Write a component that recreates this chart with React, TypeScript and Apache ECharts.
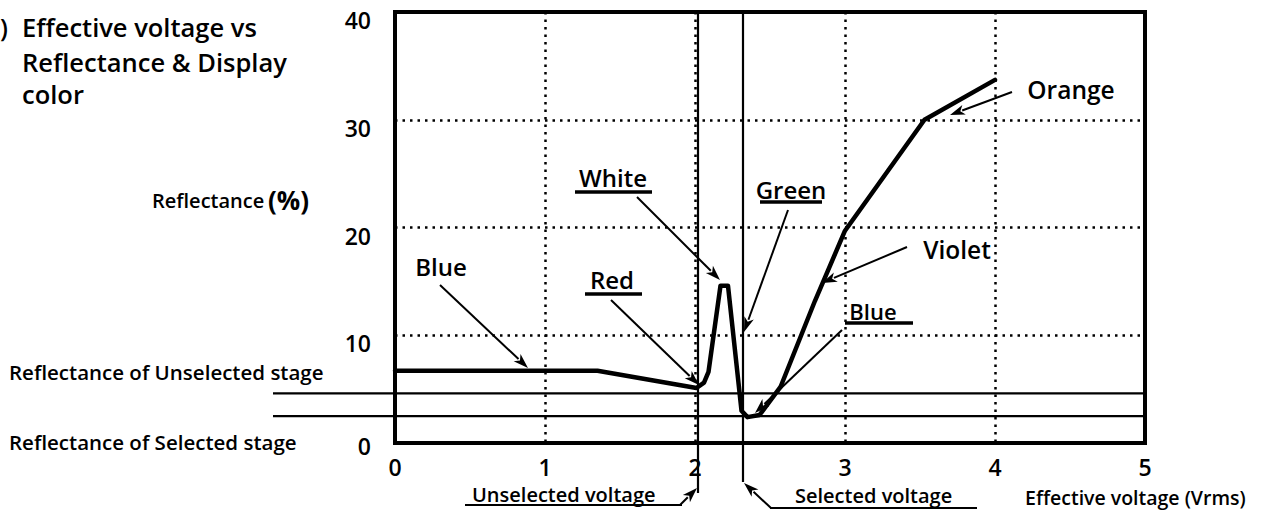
import React, { useEffect, useRef } from "react";
import * as echarts from "echarts";

// Curve: effective voltage (Vrms) vs reflectance (%)
const voltage = [0, 1.35, 2.01, 2.06, 2.09, 2.17, 2.22, 2.31, 2.35, 2.43, 2.57, 2.8, 3.0, 3.53, 4.0];
const reflectance = [6.7, 6.7, 5.1, 5.6, 6.6, 14.6, 14.6, 3.0, 2.4, 2.6, 5.2, 13.2, 19.7, 30.0, 33.7];

const xTicks = [0, 1, 2, 3, 4, 5];
const yTicks = [0, 10, 20, 30, 40];

const unselectedStageReflectance = 4.6;
const selectedStageReflectance = 2.5;
const unselectedVoltage = 2.02;
const selectedVoltage = 2.32;

const titleLines = ["Effective voltage vs", "Reflectance & Display", "color"];
const colorNames = ["Blue", "Red", "White", "Green", "Violet", "Orange", "Blue"];

const FONT = "'Open Sans', 'Noto Sans', sans-serif";

function text(t: string, x: number, y: number, size: number, align = "left", weight: any = 600) {
  return {
    type: "text",
    x,
    y,
    z: 20,
    style: {
      text: t,
      fill: "#000",
      fontSize: size,
      fontWeight: weight,
      fontFamily: FONT,
      textAlign: align,
      align,
      textVerticalAlign: "middle",
      verticalAlign: "middle",
    },
  };
}

function seg(x1: number, y1: number, x2: number, y2: number, w = 2) {
  return {
    type: "line",
    z: 15,
    shape: { x1, y1, x2, y2 },
    style: { stroke: "#000", lineWidth: w },
  };
}

function arrow(x1: number, y1: number, x2: number, y2: number, w = 2, len = 15, half = 5) {
  const dx = x2 - x1;
  const dy = y2 - y1;
  const d = Math.sqrt(dx * dx + dy * dy);
  const ux = dx / d;
  const uy = dy / d;
  const bx = x2 - ux * len;
  const by = y2 - uy * len;
  return [
    seg(x1, y1, bx + ux * 2, by + uy * 2, w),
    {
      type: "polygon",
      z: 15,
      shape: {
        points: [
          [x2, y2],
          [bx - uy * half, by + ux * half],
          [bx + ux * 4, by + uy * 4],
          [bx + uy * half, by - ux * half],
        ],
      },
      style: { fill: "#000" },
    },
  ];
}

export default function App() {
  const ref = useRef<HTMLDivElement>(null);

  useEffect(() => {
    if (!ref.current) return;
    const chart = echarts.init(ref.current, null, { renderer: "svg" });

    const dotted = { color: "#000", width: 2.5, type: [2.5, 5] as any };

    chart.setOption({
      animation: false,
      backgroundColor: "#fff",
      grid: {
        left: 395,
        right: 131,
        top: 12,
        bottom: 68,
        show: true,
        borderColor: "#000",
        borderWidth: 4,
        backgroundColor: "transparent",
        z: 10,
      },
      xAxis: {
        type: "value",
        min: xTicks[0],
        max: xTicks[xTicks.length - 1],
        interval: 1,
        axisLine: { show: false },
        axisTick: { show: false },
        splitLine: { show: true, lineStyle: dotted },
        axisLabel: {
          margin: 12,
          color: "#000",
          fontSize: 23,
          fontWeight: 600,
          fontFamily: FONT,
          showMinLabel: true,
          showMaxLabel: true,
        },
      },
      yAxis: {
        type: "value",
        min: yTicks[0],
        max: yTicks[yTicks.length - 1],
        interval: 10,
        axisLine: { show: false },
        axisTick: { show: false },
        splitLine: { show: true, lineStyle: dotted },
        axisLabel: { show: false },
      },
      series: [
        {
          type: "line",
          data: voltage.map((v, i) => [v, reflectance[i]]),
          showSymbol: false,
          symbol: "none",
          lineStyle: { color: "#000", width: 4.5, join: "round", cap: "round" },
          z: 12,
        },
      ],
    });

    const px = (x: number, y: number) => chart.convertToPixel({ gridIndex: 0 }, [x, y]) as number[];
    const yU = px(0, unselectedStageReflectance)[1];
    const yS = px(0, selectedStageReflectance)[1];
    const xRight = px(5, 0)[0];
    const yTop = px(0, 40)[1];
    const xUV = px(unselectedVoltage, 0)[0];
    const xSV = px(selectedVoltage, 0)[0];

    const g: any[] = [];
    // Y tick labels (sit slightly below their grid lines, as in the reference)
    yTicks.forEach((v) => {
      const y = px(0, v)[1];
      g.push(text(String(v), 371, Math.min(y + 8, 446), 23, "right"));
    });
    // Title
    g.push(text(")", 0, 27, 25));
    titleLines.forEach((t, i) => g.push(text(t, 22, [27, 62, 94][i], 25.5)));
    // Y axis name
    g.push(text("Reflectance", 152, 200, 20));
    g.push(text("(%)", 268, 200, 26, "left", 700));
    // Stage labels
    g.push(text("Reflectance of Unselected stage", 9, 372, 20.5));
    g.push(text("Reflectance of Selected stage", 9, 442, 20.5));
    // Stage lines
    g.push(seg(273, yU, xRight, yU, 2.2));
    g.push(seg(273, yS, xRight, yS, 2.2));
    // Voltage lines
    g.push(seg(xUV, yTop, xUV, 493, 2.2));
    g.push(seg(xSV, yTop, xSV, 482, 2.2));
    // Unselected voltage label
    g.push(text("Unselected voltage", 472, 494, 20));
    g.push(seg(465, 505, 682, 505, 2.2));
    g.push(...arrow(680, 505, xUV - 1, 488, 2));
    // Selected voltage label
    g.push(text("Selected voltage", 795, 495, 20));
    g.push(seg(770, 508, 977, 508, 2.2));
    g.push(...arrow(771, 508, xSV + 1, 483, 2));
    // X axis name
    g.push(text("Effective voltage (Vrms)", 1025, 497, 19.5));

    // Colour annotations
    // Blue (left)
    g.push(text(colorNames[0], 441, 266, 24, "center"));
    g.push(...arrow(440, 285, 528, 368));
    // Red
    g.push(text(colorNames[1], 612, 279, 24, "center"));
    g.push(seg(585, 294, 642, 294, 3.5));
    g.push(...arrow(611, 300, 699, 385));
    // White
    g.push(text(colorNames[2], 613, 177, 24, "center"));
    g.push(seg(575, 192, 652, 192, 3.5));
    g.push(...arrow(637, 197, 720, 280));
    // Green
    g.push(text(colorNames[3], 791, 189, 24, "center"));
    g.push(seg(760, 202, 822, 202, 3.5));
    g.push(...arrow(788, 210, 744, 332));
    // Violet
    g.push(text(colorNames[4], 957, 249, 24.5, "center"));
    g.push(...arrow(907, 247, 822, 283));
    // Orange
    g.push(text(colorNames[5], 1071, 89, 24.5, "center"));
    g.push(...arrow(1012, 92, 950, 115));
    // Blue (right)
    g.push(text(colorNames[6], 873, 311, 22, "center"));
    g.push(seg(845, 323, 913, 323, 3.5));
    g.push(...arrow(842, 330, 755, 413));

    chart.setOption({ graphic: g });

    return () => chart.dispose();
  }, []);

  return (
    <div
      ref={ref}
      style={{ position: "fixed", left: 0, top: 0, width: 1276, height: 511, background: "#fff" }}
    />
  );
}
